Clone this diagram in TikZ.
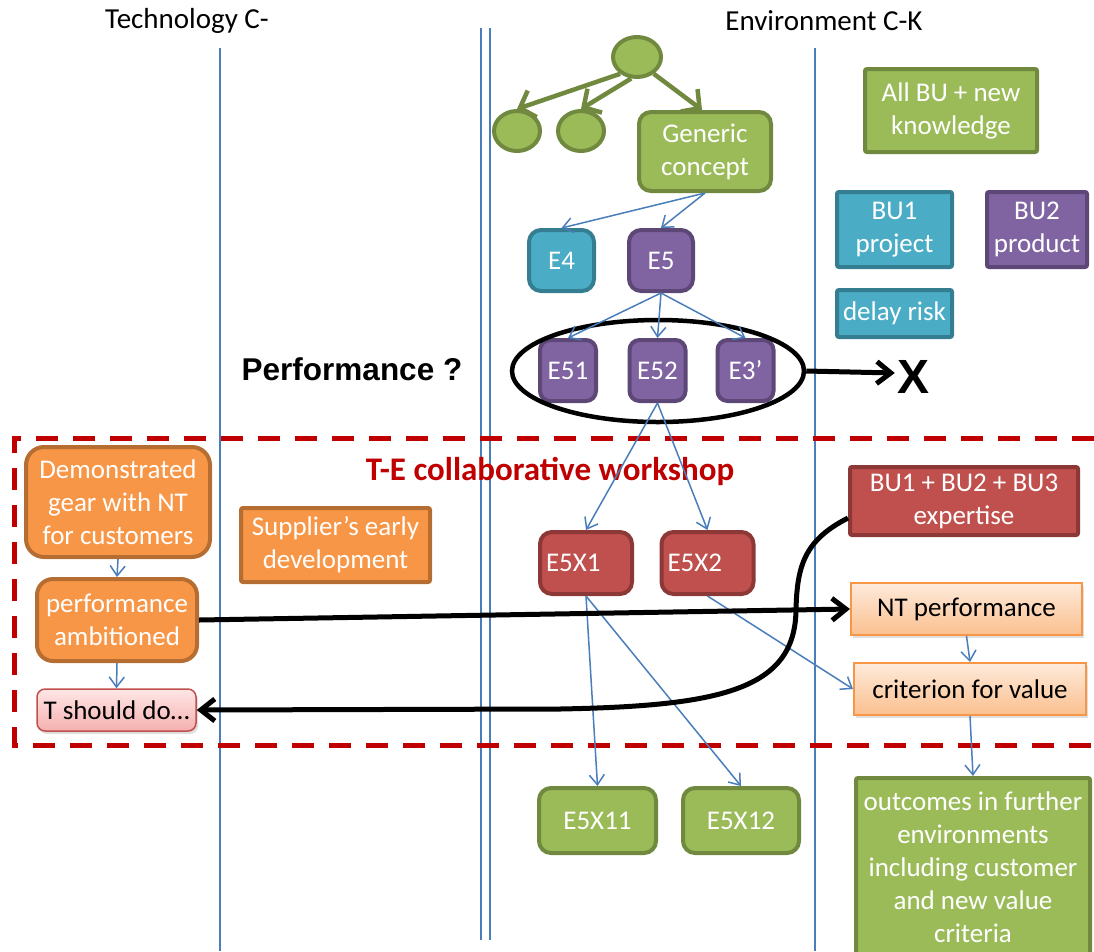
\documentclass[tikz,border=0pt]{standalone}
\usepackage{fontspec}
\setmainfont{Carlito}
\newfontfamily\arialfont{Liberation Sans}
\usetikzlibrary{arrows.meta,shapes.geometric,shadows,calc}
\definecolor{gfill}{HTML}{9BBB59}
\definecolor{gdraw}{HTML}{71893F}
\definecolor{tfill}{HTML}{4BACC6}
\definecolor{tdraw}{HTML}{357D91}
\definecolor{pfill}{HTML}{8064A2}
\definecolor{pdraw}{HTML}{5C4776}
\definecolor{rfill}{HTML}{C0504D}
\definecolor{rdraw}{HTML}{8C3836}
\definecolor{ofill}{HTML}{F79646}
\definecolor{odraw}{HTML}{B66D31}
\definecolor{bline}{HTML}{4A7EBB}
\definecolor{dred}{HTML}{C00000}
\definecolor{ltop}{HTML}{FEEADB}
\definecolor{lbot}{HTML}{FBC08F}
\definecolor{ktop}{HTML}{FFE6E6}
\definecolor{kbot}{HTML}{F4B0AF}
\begin{document}
\begin{tikzpicture}[x=1pt,y=-1pt,
  every node/.style={font=\fontsize{27}{33}\selectfont, inner sep=0pt, align=center},
  gbox/.style={draw=gdraw, fill=gfill, line width=4pt, text=white},
  tbox/.style={draw=tdraw, fill=tfill, line width=4pt, text=white},
  pbox/.style={draw=pdraw, fill=pfill, line width=4pt, text=white},
  rbox/.style={draw=rdraw, fill=rfill, line width=4pt, text=white},
  obox/.style={draw=odraw, fill=ofill, line width=4pt, text=white},
  lbox/.style={draw=ofill, top color=ltop, bottom color=lbot, line width=2pt, text=black,
    drop shadow={opacity=0.25, shadow xshift=2pt, shadow yshift=-3pt}},
  kbox/.style={draw=rfill, top color=ktop, bottom color=kbot, line width=1.5pt, text=black,
    rounded corners=8pt, drop shadow={opacity=0.25, shadow xshift=2pt, shadow yshift=-3pt}},
  sz/.style 2 args={minimum width=#1, minimum height=#2},
  barrow/.style={draw=bline, line width=1.5pt, -{Straight Barb[length=10pt,width=15pt]}},
  garrow/.style={draw=gdraw, line width=4.5pt, -{Straight Barb[length=13pt,width=28pt]}},
  karrow/.style={draw=black, line width=5pt, -{Straight Barb[length=14pt,width=22pt]}},
  vline/.style={draw=bline, line width=1.5pt}
]
\useasboundingbox (0,0) rectangle (1094,951);
\clip (0,0) rectangle (1094,951);

% column titles
\node (tech) at (187,21) {\fontsize{29}{35}\selectfont Technology C-};
\node (env) at (824,21) {\fontsize{29}{35}\selectfont Environment C-K};

% vertical separators
\coordinate (v1a) at (220,48); \coordinate (v1b) at (220,951);
\coordinate (v2a) at (481,28); \coordinate (v2b) at (481,940);
\coordinate (v3a) at (490,28); \coordinate (v3b) at (490,940);
\coordinate (v4a) at (815,48); \coordinate (v4b) at (815,951);
\draw[vline] (v1a) -- (v1b);
\draw[vline] (v2a) -- (v2b);
\draw[vline] (v3a) -- (v3b);
\draw[vline] (v4a) -- (v4b);

% dashed workshop frame
\coordinate (f1) at (1094,438); \coordinate (f2) at (14,438);
\coordinate (f3) at (14,745); \coordinate (f4) at (1094,745);
\draw[dred, line width=5pt, dash pattern=on 22pt off 15pt] (f1) -- (f2) -- (f3) -- (f4);

% top tree
\node[gbox, ellipse, sz={48pt}{40pt}] (root) at (637,57) {};
\node[gbox, ellipse, sz={46pt}{40pt}] (c1) at (517,131) {};
\node[gbox, ellipse, sz={46pt}{40pt}] (c2) at (581,131) {};
\node[gbox, rounded corners=12pt, sz={132pt}{79pt}] (gen) at (705,151.5) {Generic\\concept};

\node[tbox, rounded corners=12pt, sz={65pt}{61pt}] (e4) at (561.5,260.5) {E4};
\node[pbox, rounded corners=12pt, sz={64pt}{61pt}] (e5) at (661,260.5) {E5};

\node[pbox, rounded corners=10pt, sz={56pt}{61pt}] (e51) at (568,370.5) {E51};
\node[pbox, rounded corners=10pt, sz={56pt}{61pt}] (e52) at (657.5,370.5) {E52};
\node[pbox, rounded corners=10pt, sz={56pt}{61pt}] (e3) at (745.5,370.5) {E3’};
\node[draw=black, line width=4.5pt, ellipse, sz={292pt}{102pt}] (bigell) at (658,371) {};
\node (xmark) at (913,377) {\fontsize{48}{48}\selectfont\arialfont\bfseries X};
\node (perfq) at (352,369) {\fontsize{31.5}{34}\selectfont\arialfont\bfseries Performance ?};

% right legend boxes
\node[gbox, rounded corners=2pt, sz={172pt}{83pt}] (allbu) at (951,110.5) {All BU + new\\knowledge};
\node[tbox, rounded corners=2pt, sz={115pt}{75pt}] (bu1) at (894.5,229.5) {BU1\\project};
\node[pbox, rounded corners=2pt, sz={100pt}{75pt}] (bu2) at (1037,229.5) {BU2\\product};
\node[tbox, rounded corners=2pt, sz={115pt}{47pt}] (delay) at (894.5,313.5) {delay risk};

% workshop
\node[text=dred] (te) at (550,471) {\fontsize{33}{36}\selectfont\bfseries T-E collaborative workshop};
\node[obox, rounded corners=18pt, sz={184pt}{110pt}] (demo) at (118,502) {Demonstrated\\gear with NT\\for customers};
\node[obox, rounded corners=16pt, sz={160pt}{82pt}] (perf) at (117,620) {performance\\ambitioned};
\node[kbox, sz={159pt}{42pt}] (tsd) at (116.5,710) {T should do…};
\node[obox, rounded corners=2pt, sz={189pt}{74pt}] (supp) at (335.5,545) {Supplier’s early\\development};

\node[rbox, rounded corners=12pt, sz={92pt}{62pt}, text width=80pt, inner xsep=6pt, align=left] (e5x1) at (586,563) {E5X1};
\node[rbox, rounded corners=12pt, sz={92pt}{62pt}, text width=80pt, inner xsep=6pt, align=left] (e5x2) at (707.5,563) {E5X2};

\node[rbox, rounded corners=2pt, sz={228pt}{68pt}] (bu123) at (964,501) {BU1 + BU2 + BU3\\expertise};
\node[lbox, sz={231pt}{52pt}] (nt) at (966.5,609) {NT performance};
\node[lbox, sz={232pt}{52pt}] (crit) at (970,689) {criterion for value};

% bottom
\node[gbox, rounded corners=12pt, sz={117pt}{65pt}] (e11) at (597.5,820.5) {E5X11};
\node[gbox, rounded corners=12pt, sz={116pt}{65pt}] (e12) at (741,820.5) {E5X12};
\node[gbox, rounded corners=2pt, sz={234pt}{178pt}] (outc) at (973,867) {outcomes in further\\environments\\including customer\\and new value\\criteria};

% green tree arrows
\draw[garrow] (root.225) -- (c1.north);
\draw[garrow] (root.255) -- (c2.north);
\draw[garrow] (root.315) -- ($(gen.north)+(-3,0)$);

% blue connectors
\draw[barrow] (gen.south) -- (e4.north);
\draw[barrow] (gen.south) -- (e5.north);
\draw[barrow] (e5.south) -- (e51.north);
\draw[barrow] (e5.south) -- (e52.north);
\draw[barrow] (e5.south) -- (e3.north);
\draw[barrow] (e52.south) -- (e5x1.north);
\draw[barrow] (e52.south) -- (e5x2.north);
\draw[barrow] (e5x1.south) -- (e11.north);
\draw[barrow] (e5x1.south) -- (e12.north);
\draw[barrow] (e5x2.south) -- (crit.west);
\draw[barrow] (nt.south) -- (crit.north);
\draw[barrow] (crit.south) -- (outc.north);
\draw[barrow] (demo.south) -- (perf.north);
\draw[barrow] (perf.south) -- (tsd.north);

% black connectors
\draw[karrow] (bigell.east) -- ($(xmark.west)+(-2,-4)$);
\draw[karrow] (perf.east) -- (nt.west);
\draw[karrow] ($(bu123.west)+(0,17)$) .. controls (805,540) and (797,565) .. (796,610)
  .. controls (795,690) and (720,706) .. (560,709) -- (tsd.east);
\end{tikzpicture}
\end{document}
